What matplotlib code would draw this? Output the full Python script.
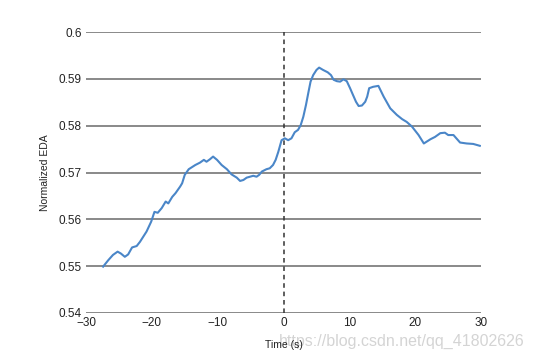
import matplotlib
matplotlib.use("Agg")
import matplotlib.pyplot as plt

plt.rcParams['font.family'] = ['Liberation Sans', 'DejaVu Sans']

time_s = [-27.4, -26.6, -25.9, -25.2, -24.7, -24.1, -23.6, -23.0, -22.3, -21.8, -21.3, -20.8,
          -20.1, -19.6, -19.1, -18.5, -17.9, -17.5, -16.9, -16.4, -15.7, -15.4, -15.0, -14.4,
          -13.4, -12.7, -12.1, -11.7, -11.2, -10.7, -10.1, -9.4, -8.6, -7.9, -7.1, -6.6, -6.1,
          -5.6, -5.1, -4.6, -4.1, -3.7, -3.3, -2.6, -2.1, -1.6, -1.2, -0.8, -0.3, 0.2, 0.7,
          1.2, 1.7, 2.2, 2.6, 3.0, 3.4, 3.8, 4.1, 4.5, 5.0, 5.4, 6.0, 6.7, 7.2, 7.6, 8.1, 8.6,
          9.1, 9.6, 10.1, 10.5, 11.0, 11.4, 11.9, 12.4, 12.7, 13.0, 13.6, 14.4, 15.2, 16.2,
          17.2, 18.0, 18.7, 19.5, 20.5, 21.3, 22.3, 23.0, 23.8, 24.5, 25.0, 25.8, 26.8, 27.8,
          28.8, 29.8]
eda = [0.5499, 0.5513, 0.5524, 0.5531, 0.5527, 0.5520, 0.5525, 0.5540, 0.5543, 0.5552, 0.5563,
       0.5574, 0.5595, 0.5616, 0.5614, 0.5624, 0.5638, 0.5634, 0.5648, 0.5656, 0.5670, 0.5677,
       0.5695, 0.5707, 0.5716, 0.5721, 0.5727, 0.5723, 0.5728, 0.5734, 0.5727, 0.5716, 0.5707,
       0.5696, 0.5689, 0.5682, 0.5684, 0.5689, 0.5691, 0.5693, 0.5691, 0.5695, 0.5702, 0.5707,
       0.5709, 0.5716, 0.5727, 0.5744, 0.5769, 0.5773, 0.5769, 0.5773, 0.5786, 0.5791, 0.5801,
       0.5819, 0.5844, 0.5873, 0.5894, 0.5908, 0.5919, 0.5924, 0.5919, 0.5914, 0.5908, 0.5898,
       0.5895, 0.5894, 0.5899, 0.5895, 0.5880, 0.5867, 0.5851, 0.5842, 0.5843, 0.5851, 0.5862,
       0.5880, 0.5883, 0.5885, 0.5862, 0.5837, 0.5823, 0.5814, 0.5808, 0.5798, 0.5780, 0.5762,
       0.5771, 0.5776, 0.5784, 0.5785, 0.5780, 0.5780, 0.5764, 0.5762, 0.5761, 0.5757]

x_ticks = [-30, -20, -10, 0, 10, 20, 30]
x_tick_labels = ['\u221230', '\u221220', '\u221210', '0', '10', '20', '30']
y_ticks = [0.54, 0.55, 0.56, 0.57, 0.58, 0.59, 0.6]
y_tick_labels = ['0.54', '0.55', '0.56', '0.57', '0.58', '0.59', '0.6']

fig = plt.figure(figsize=(5.34, 3.58), dpi=100)
ax = fig.add_axes([0.161, 0.1257, 0.740, 0.7849])
for yv in y_ticks:
    ax.axhline(yv, color='#808080', lw=1.3, zorder=1)
ax.axvline(0, color='#333333', lw=1.1, ls=(0, (3, 2.5)), zorder=2)
ax.plot(time_s, eda, color='#4a86c8', lw=1.5, zorder=3)
ax.set_xlim(-30, 30)
ax.set_ylim(0.54, 0.6)
ax.set_xticks(x_ticks)
ax.set_xticklabels(x_tick_labels)
ax.set_yticks(y_ticks)
ax.set_yticklabels(y_tick_labels)
ax.tick_params(length=0, labelsize=8.5, pad=3, colors='#222222')
for s in ax.spines.values():
    s.set_visible(False)
ax.set_xlabel('Time (s)', fontsize=7.5, labelpad=8, color='#222222')
ax.set_ylabel('Normalized EDA', fontsize=7.5, labelpad=6, color='#222222')
fig.text(0.983, 0.045, 'https://blog.csdn.net/qq_41802626', fontsize=11.5, color='#d4d4d4',
         ha='right', va='center', zorder=-1)
fig.savefig('out.png', dpi=100, facecolor='white')
